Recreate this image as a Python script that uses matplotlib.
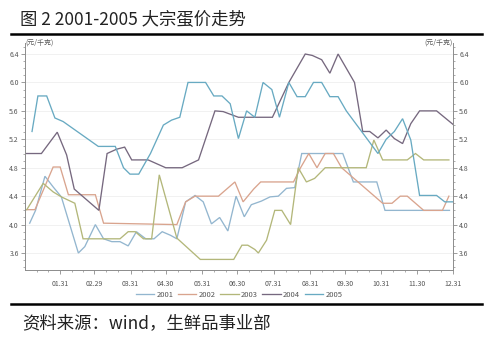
import matplotlib
matplotlib.use("Agg")
import matplotlib.pyplot as plt
from matplotlib.ticker import FixedLocator, MultipleLocator
import numpy as np

plt.rcParams['font.family'] = ['Noto Sans CJK SC', 'DejaVu Sans']

# Egg prices (yuan/kg) by day of year, 2001-2005
days_2001 = [4, 9, 17, 24, 31, 45.5, 51, 60, 67, 74, 81, 88, 95, 103, 110, 117, 124, 129.5,
             137, 145, 152, 159, 166, 173, 180, 187, 193, 201.5, 209, 216, 223, 230, 236,
             271, 280, 300, 307, 362]
vals_2001 = [4.02, 4.2, 4.68, 4.53, 4.39, 3.6, 3.69, 4.0, 3.8, 3.76, 3.76, 3.7, 3.9, 3.8, 3.8,
             3.9, 3.85, 3.8, 4.32, 4.41, 4.32, 4.01, 4.1, 3.91, 4.4, 4.11, 4.28, 4.33, 4.39,
             4.4, 4.51, 4.52, 5.0, 5.0, 4.6, 4.6, 4.2, 4.2]

days_2002 = [1.5, 8.5, 24, 30, 37, 60, 67, 129.5, 137, 145, 165, 179, 186, 195, 201, 229,
             235, 242, 249, 256, 263, 270, 305, 313, 320, 326, 340, 356, 361.5]
vals_2002 = [4.21, 4.21, 4.81, 4.81, 4.42, 4.42, 4.02, 4.0, 4.32, 4.4, 4.4, 4.6, 4.32, 4.5,
             4.6, 4.6, 4.8, 5.0, 4.8, 5.0, 5.0, 4.8, 4.3, 4.3, 4.4, 4.4, 4.2, 4.2, 4.4]

days_2003 = [1.5, 15.5, 24, 31, 42.5, 49.5, 81, 88, 94, 101, 108, 114.5, 129.5, 149.5, 178,
             185, 190, 196, 199, 206, 213, 219, 226.5, 233, 240, 247, 256, 291, 297.5, 305,
             326, 333, 340, 361.5]
vals_2003 = [4.21, 4.58, 4.46, 4.39, 4.3, 3.8, 3.8, 3.9, 3.9, 3.8, 3.8, 4.7, 3.81, 3.51, 3.51,
             3.71, 3.71, 3.65, 3.6, 3.78, 4.2, 4.2, 4.0, 4.8, 4.6, 4.65, 4.8, 4.8, 5.19, 4.91,
             4.91, 5.0, 4.91, 4.91]

days_2004 = [1, 14, 27.5, 35.5, 42, 63, 70, 78, 85, 91, 105, 120, 134, 148, 162, 169, 182,
             211, 225, 239, 245, 253, 260, 267, 274, 281, 288, 294, 301, 308, 315, 322, 329,
             336.5, 351, 365]
vals_2004 = [5.0, 5.0, 5.3, 4.98, 4.5, 4.2, 5.0, 5.06, 5.09, 4.91, 4.91, 4.8, 4.8, 4.91, 5.6,
             5.59, 5.51, 5.51, 6.0, 6.4, 6.38, 6.32, 6.13, 6.4, 6.2, 6.0, 5.31, 5.31, 5.22,
             5.33, 5.21, 5.14, 5.42, 5.6, 5.6, 5.41]

days_2005 = [6, 11, 18.5, 25.5, 32.5, 62.5, 77, 84, 89.5, 97, 107, 118, 125, 132, 139, 154,
             161, 168, 175, 182, 189, 196, 203, 210.5, 217, 225, 232, 239, 246, 253, 260, 267,
             274, 301, 308, 315, 322, 329, 336.5, 351, 358, 365]
vals_2005 = [5.31, 5.81, 5.81, 5.5, 5.45, 5.1, 5.1, 4.8, 4.71, 4.71, 5.0, 5.4, 5.47, 5.51, 6.0,
             6.0, 5.81, 5.81, 5.7, 5.21, 5.6, 5.51, 6.0, 5.9, 5.51, 6.0, 5.8, 5.8, 6.0, 6.0,
             5.8, 5.8, 5.6, 5.0, 5.2, 5.31, 5.49, 5.19, 4.41, 4.41, 4.32, 4.32]

years = ['2001', '2002', '2003', '2004', '2005']
colors = ['#93b6cf', '#d9a48e', '#b3b77a', '#76687f', '#68aac2']
series = [(days_2001, vals_2001), (days_2002, vals_2002), (days_2003, vals_2003),
          (days_2004, vals_2004), (days_2005, vals_2005)]

tick_days = [30, 59, 90, 120, 151, 181, 212, 243, 273, 304, 334, 365]
tick_labels = ['01.31', '02.29', '03.31', '04.30', '05.31', '06.30', '07.31',
               '08.31', '09.30', '10.31', '11.30', '12.31']

fig = plt.figure(figsize=(5.0, 3.37), dpi=100)
ax = fig.add_axes([0.05, 0.1988, 0.856, 0.6736])

for (d, v), c, y in zip(series, colors, years):
    ax.plot(d, v, color=c, lw=0.95, label=y, solid_joinstyle='miter')

ax.set_xlim(0, 365)
ax.set_ylim(3.361, 6.555)

axis_gray = '#8c8c8c'
label_gray = '#555555'

ax.xaxis.set_major_locator(FixedLocator(tick_days))
ax.set_xticklabels(tick_labels)
bounds = [0] + tick_days
minors = []
for a, b in zip(bounds[:-1], bounds[1:]):
    minors += [a + (b - a) / 3, a + 2 * (b - a) / 3]
ax.xaxis.set_minor_locator(FixedLocator(minors))

yt = [3.6, 4.0, 4.4, 4.8, 5.2, 5.6, 6.0, 6.4]
ax.yaxis.set_major_locator(FixedLocator(yt))
ax.set_yticklabels([f'{t:.1f}' for t in yt])
ax.yaxis.set_minor_locator(MultipleLocator(0.1))
ax.tick_params(axis='y', which='both', left=True, right=True,
               labelleft=True, labelright=True)

ax.tick_params(which='major', length=3, width=0.6, color=axis_gray,
               labelsize=5, labelcolor=label_gray, pad=1.5)
ax.tick_params(which='minor', length=1.6, width=0.5, color=axis_gray)
ax.tick_params(axis='x', which='major', pad=4)

for s in ['left', 'right', 'bottom']:
    ax.spines[s].set_color(axis_gray)
    ax.spines[s].set_linewidth(0.7)
ax.spines['top'].set_visible(False)

ax.grid(axis='y', which='major', color='#efefef', lw=0.6)
ax.set_axisbelow(True)

ax.text(0.0, 1.0, '(元/千克)', transform=ax.transAxes, fontsize=5,
        color=label_gray, ha='left', va='center')
ax.text(1.0, 1.0, '(元/千克)', transform=ax.transAxes, fontsize=5,
        color=label_gray, ha='right', va='center')

fig.legend(loc='center', bbox_to_anchor=(0.478, 0.1246), ncol=5, frameon=False,
           fontsize=5.5, handlelength=2.4, handletextpad=0.3, columnspacing=0.6,
           labelcolor=label_gray)

fig.text(0.04, 0.945, '图 2 2001-2005 大宗蛋价走势', fontsize=12.5,
         color='#222222', ha='left', va='center')
fig.text(0.044, 0.04, '资料来源：wind，生鲜品事业部', fontsize=12.5,
         color='#222222', ha='left', va='center')

fig.add_artist(plt.Line2D([0.022, 0.964], [0.9, 0.9], color='black', lw=1.8,
                          transform=fig.transFigure))
fig.add_artist(plt.Line2D([0.022, 0.964], [0.0985, 0.0985], color='black', lw=1.8,
                          transform=fig.transFigure))

fig.savefig('out.png', dpi=100, facecolor='white')
